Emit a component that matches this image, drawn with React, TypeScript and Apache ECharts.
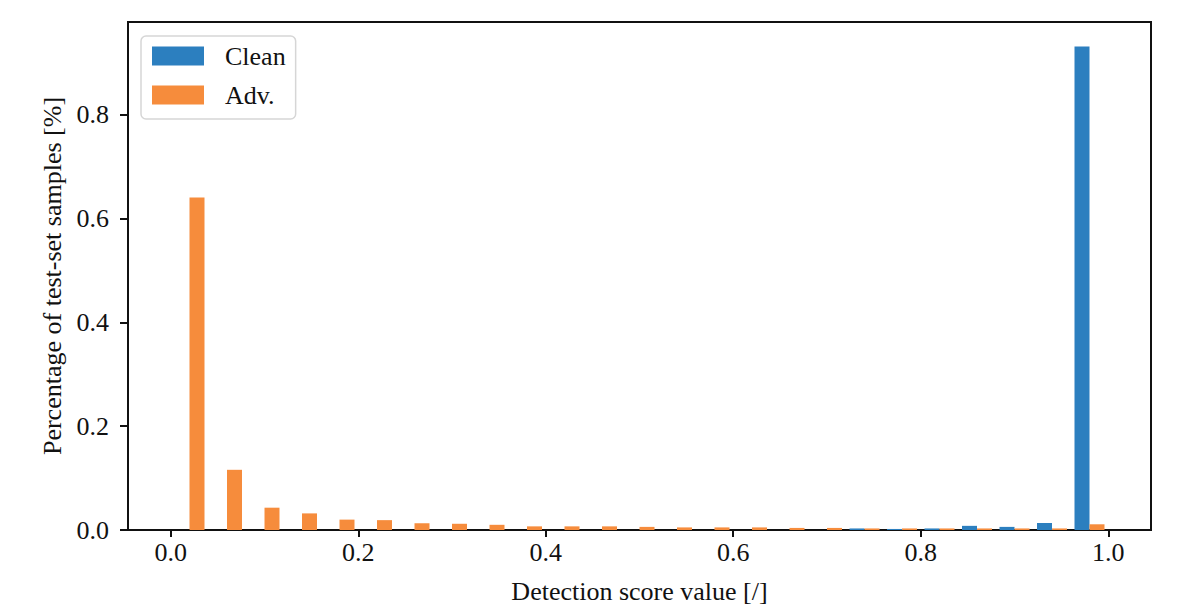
import React, { useEffect, useRef } from "react";
import * as echarts from "echarts";

// Histogram bins (start of each bin), bin width 0.04
const binStarts = [
  0.0, 0.04, 0.08, 0.12, 0.16, 0.2, 0.24, 0.28, 0.32, 0.36, 0.4, 0.44, 0.48,
  0.52, 0.56, 0.6, 0.64, 0.68, 0.72, 0.76, 0.8, 0.84, 0.88, 0.92, 0.96,
];
const cleanValues = [
  0, 0, 0, 0, 0, 0, 0, 0, 0, 0, 0, 0, 0, 0, 0, 0, 0, 0, 0.003, 0.002, 0.003,
  0.008, 0.006, 0.0135, 0.932,
];
const advValues = [
  0.641, 0.116, 0.043, 0.032, 0.02, 0.019, 0.013, 0.012, 0.01, 0.007, 0.007,
  0.007, 0.006, 0.005, 0.005, 0.005, 0.004, 0.004, 0.003, 0.003, 0.003, 0.003,
  0.003, 0.003, 0.011,
];
const xTicks = [0, 0.2, 0.4, 0.6, 0.8, 1.0];
const yTicks = [0, 0.2, 0.4, 0.6, 0.8];
const seriesNames = ["Clean", "Adv."];

const BIN_WIDTH = 0.04;
const RWIDTH = 0.8;
const COLORS = ["#2c7fbf", "#f68c3c"];
const FONT = "Liberation Serif";
const INK = "#111111";
const FS = 26;

function makeSeries(idx: number, values: number[]) {
  const barW = (BIN_WIDTH * RWIDTH) / 2;
  const pad = (BIN_WIDTH * (1 - RWIDTH)) / 2;
  return {
    name: seriesNames[idx],
    type: "custom",
    itemStyle: { color: COLORS[idx] },
    data: binStarts.map((s, i) => [s, values[i]]),
    renderItem: (_params: any, api: any) => {
      const start = api.value(0) as number;
      const v = api.value(1) as number;
      const x0 = start + pad + idx * barW;
      const x1 = x0 + barW;
      const p0 = api.coord([x0, v]);
      const p1 = api.coord([x1, 0]);
      return {
        type: "rect",
        shape: { x: p0[0], y: p0[1], width: p1[0] - p0[0], height: p1[1] - p0[1] },
        style: { fill: COLORS[idx] },
      };
    },
  };
}

export default function App() {
  const ref = useRef<HTMLDivElement>(null);
  useEffect(() => {
    document.body.style.margin = "0";
    if (!ref.current) return;
    const chart = echarts.init(ref.current, undefined, { renderer: "svg" });
    chart.setOption({
      animation: false,
      backgroundColor: "#ffffff",
      textStyle: { fontFamily: FONT },
      grid: {
        left: 128,
        right: 45,
        top: 22,
        bottom: 86,
        show: true,
        borderColor: INK,
        borderWidth: 2,
        backgroundColor: "transparent",
      },
      legend: {
        orient: "vertical",
        left: 141,
        top: 36,
        data: seriesNames.map((n) => ({ name: n, icon: "rect" })),
        itemWidth: 52,
        itemHeight: 19,
        itemGap: 13,
        padding: [7, 10, 11, 11],
        backgroundColor: "#ffffff",
        borderColor: "#d6d6d6",
        borderWidth: 1.5,
        borderRadius: 5,
        textStyle: {
          fontFamily: FONT,
          fontSize: FS,
          lineHeight: 24,
          color: INK,
          padding: [0, 0, 0, 16],
        },
      },
      xAxis: {
        type: "value",
        min: -0.0456,
        max: 1.0456,
        name: "Detection score value [/]",
        nameLocation: "middle",
        nameGap: 48,
        nameTextStyle: { fontFamily: FONT, fontSize: FS, color: INK },
        axisLine: { show: true, onZero: false, lineStyle: { color: INK, width: 2 } },
        axisTick: {
          show: true,
          length: 7,
          lineStyle: { color: INK, width: 2 },
          customValues: xTicks,
        },
        axisLabel: {
          customValues: xTicks,
          formatter: (v: number) => v.toFixed(1),
          fontFamily: FONT,
          fontSize: FS,
          color: INK,
          margin: 9,
        },
        splitLine: { show: false },
      },
      yAxis: {
        type: "value",
        min: 0,
        max: 0.979,
        name: "Percentage of test-set samples [%]",
        nameLocation: "middle",
        nameGap: 63,
        nameTextStyle: { fontFamily: FONT, fontSize: FS, color: INK },
        axisLine: { show: true, onZero: false, lineStyle: { color: INK, width: 2 } },
        axisTick: {
          show: true,
          length: 8,
          lineStyle: { color: INK, width: 2 },
          customValues: yTicks,
        },
        axisLabel: {
          customValues: yTicks,
          formatter: (v: number) => v.toFixed(1),
          fontFamily: FONT,
          fontSize: FS,
          color: INK,
          margin: 19,
        },
        splitLine: { show: false },
      },
      series: [makeSeries(0, cleanValues), makeSeries(1, advValues)],
    });
    return () => chart.dispose();
  }, []);
  return <div ref={ref} style={{ width: 1196, height: 616 }} />;
}
